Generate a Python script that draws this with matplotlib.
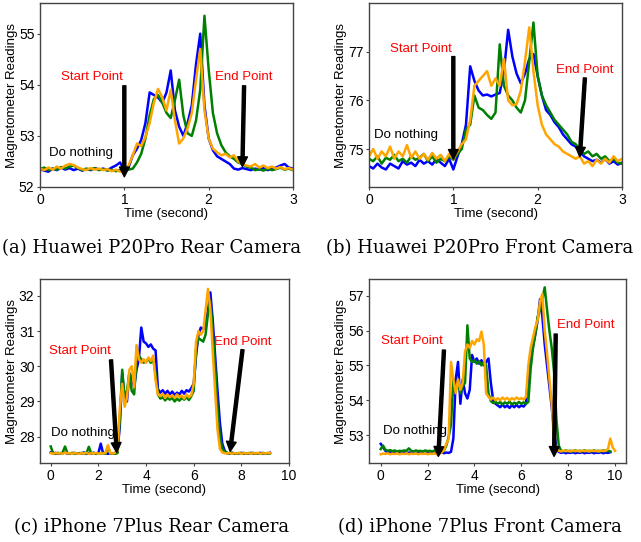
import matplotlib
matplotlib.use("Agg")
import matplotlib.pyplot as plt

plt.rcParams['font.family'] = ['Liberation Sans', 'DejaVu Sans']

# ---- (a) Huawei P20Pro rear camera, t step 0.05 s ----
t_a = [i * 0.05 for i in range(61)]
a_blue = [52.35, 52.32, 52.30, 52.36, 52.33, 52.38, 52.34, 52.37, 52.33, 52.36,
          52.32, 52.35, 52.33, 52.37, 52.34, 52.36, 52.33, 52.38, 52.42, 52.48,
          52.32, 52.38, 52.62, 52.75, 52.92, 53.25, 53.85, 53.80, 53.75, 53.65,
          53.85, 54.28, 53.50, 53.18, 53.00, 53.25, 53.60, 54.40, 55.00, 53.60,
          52.95, 52.72, 52.60, 52.55, 52.50, 52.45, 52.36, 52.34, 52.37, 52.35,
          52.33, 52.36, 52.34, 52.37, 52.33, 52.36, 52.38, 52.42, 52.45, 52.38, 52.36]
a_green = [52.35, 52.38, 52.33, 52.36, 52.34, 52.39, 52.36, 52.40, 52.42, 52.37,
           52.33, 52.36, 52.34, 52.37, 52.33, 52.35, 52.32, 52.34, 52.31, 52.33,
           52.30, 52.34, 52.36, 52.48, 52.65, 52.95, 53.40, 53.72, 53.80, 53.65,
           53.45, 53.35, 53.70, 54.10, 53.40, 53.05, 53.00, 53.30, 53.90, 55.35,
           54.30, 53.45, 53.05, 52.82, 52.68, 52.60, 52.55, 52.48, 52.45, 52.40,
           52.38, 52.33, 52.35, 52.32, 52.36, 52.33, 52.35, 52.38, 52.34, 52.36, 52.33]
a_orange = [52.36, 52.33, 52.38, 52.34, 52.40, 52.36, 52.42, 52.45, 52.43, 52.38,
            52.35, 52.33, 52.37, 52.34, 52.36, 52.33, 52.35, 52.31, 52.34, 52.30,
            52.32, 52.42, 52.62, 52.85, 52.80, 52.98, 53.25, 53.65, 53.92, 53.75,
            53.50, 53.90, 53.30, 52.85, 52.95, 53.15, 53.45, 54.10, 54.70, 53.50,
            52.95, 52.75, 52.68, 52.62, 52.65, 52.58, 52.62, 52.50, 52.45, 52.42,
            52.40, 52.45, 52.38, 52.42, 52.37, 52.40, 52.36, 52.39, 52.35, 52.37, 52.34]

# ---- (b) Huawei P20Pro front camera ----
t_b = [i * 0.05 for i in range(61)]
b_blue = [74.65, 74.60, 74.70, 74.62, 74.58, 74.70, 74.65, 74.60, 74.75, 74.68,
          74.72, 74.65, 74.78, 74.70, 74.75, 74.68, 74.80, 74.72, 74.65, 74.80,
          74.58, 74.85, 75.10, 75.50, 76.70, 76.40, 76.20, 76.10, 76.12, 76.08,
          76.12, 76.15, 76.60, 77.45, 76.90, 76.55, 76.35, 76.55, 76.85, 76.95,
          76.50, 76.10, 75.80, 75.70, 75.55, 75.45, 75.30, 75.20, 75.10, 75.05,
          74.95, 74.85, 74.80, 74.75, 74.78, 74.72, 74.80, 74.70, 74.75, 74.68, 74.72]
b_green = [74.80, 74.75, 74.85, 74.70, 74.82, 74.78, 74.88, 74.75, 74.80, 74.72,
           74.85, 74.78, 74.82, 74.90, 74.75, 74.85, 74.72, 74.80, 74.75, 74.85,
           74.78, 74.90, 75.00, 75.40, 75.50, 76.10, 75.85, 75.80, 75.70, 75.62,
           75.75, 77.15, 76.30, 76.10, 76.00, 75.85, 75.75, 76.00, 76.80, 77.60,
           76.50, 76.10, 75.90, 75.75, 75.60, 75.50, 75.40, 75.30, 75.15, 75.10,
           75.00, 74.90, 74.95, 74.85, 74.90, 74.80, 74.85, 74.75, 74.80, 74.72, 74.70]
b_orange = [74.85, 75.00, 74.80, 74.95, 74.85, 75.05, 74.80, 74.95, 74.85, 75.08,
            74.82, 74.95, 74.80, 74.90, 74.78, 74.92, 74.80, 74.88, 74.75, 74.90,
            74.80, 74.95, 75.10, 75.20, 75.60, 76.30, 76.40, 76.50, 76.60, 76.30,
            76.45, 76.30, 76.85, 76.00, 75.90, 75.92, 76.20, 76.80, 77.50, 76.60,
            75.90, 75.50, 75.30, 75.20, 75.10, 75.05, 74.95, 74.90, 74.85, 74.80,
            74.85, 74.70, 74.75, 74.65, 74.78, 74.70, 74.80, 74.72, 74.85, 74.75, 74.80]

# ---- (c) iPhone 7Plus rear camera, t step 0.1 s ----
t_c = [i * 0.1 for i in range(93)]
c_blue = [27.55, 27.52, 27.54, 27.51, 27.53, 27.52, 27.55, 27.51, 27.53, 27.52,
          27.54, 27.51, 27.53, 27.52, 27.55, 27.51, 27.53, 27.52, 27.54, 27.51,
          27.53, 27.80, 27.52, 27.54, 27.51, 27.53, 27.52, 27.54, 27.56, 28.30,
          29.80, 29.10, 29.00, 29.80, 29.70, 29.40, 29.90, 30.20, 31.10, 30.70,
          30.65, 30.55, 30.62, 30.50, 30.45, 29.35, 29.25, 29.32, 29.22, 29.30,
          29.20, 29.28, 29.18, 29.25, 29.20, 29.30, 29.22, 29.32, 29.28, 29.38,
          29.50, 30.30, 30.90, 31.10, 31.05, 31.20, 31.60, 32.10, 31.30, 30.30,
          29.30, 28.40, 27.80, 27.60, 27.53, 27.52, 27.54, 27.51, 27.53, 27.52,
          27.54, 27.51, 27.53, 27.52, 27.54, 27.51, 27.53, 27.52, 27.54, 27.51,
          27.53, 27.52, 27.54]
c_green = [27.72, 27.53, 27.51, 27.54, 27.52, 27.55, 27.72, 27.53, 27.51, 27.54,
           27.52, 27.53, 27.51, 27.54, 27.52, 27.53, 27.71, 27.52, 27.54, 27.51,
           27.53, 27.52, 27.54, 27.51, 27.72, 27.53, 27.52, 27.51, 27.53, 28.50,
           29.90, 29.10, 29.30, 29.80, 29.30, 29.20, 30.20, 30.30, 30.20, 30.10,
           30.15, 30.20, 30.10, 30.20, 29.80, 29.20, 29.08, 29.12, 29.03, 29.10,
           29.05, 29.10, 29.00, 29.08, 29.02, 29.10, 29.05, 29.12, 29.04, 29.15,
           29.30, 30.50, 30.80, 30.75, 30.70, 30.90, 31.50, 31.85, 31.00, 30.00,
           28.80, 28.00, 27.65, 27.58, 27.54, 27.52, 27.54, 27.53, 27.51, 27.53,
           27.52, 27.54, 27.51, 27.53, 27.52, 27.54, 27.51, 27.53, 27.52, 27.54,
           27.51, 27.53, 27.52]
c_orange = [27.53, 27.51, 27.54, 27.52, 27.53, 27.51, 27.55, 27.52, 27.53, 27.51,
            27.54, 27.52, 27.51, 27.53, 27.52, 27.54, 27.51, 27.53, 27.52, 27.54,
            27.51, 27.53, 27.52, 27.54, 27.76, 27.53, 27.52, 27.54, 27.60, 28.80,
            29.50, 28.85, 29.10, 29.90, 30.00, 29.40, 30.60, 30.20, 30.10, 30.20,
            30.10, 30.25, 30.15, 30.30, 29.60, 29.20, 29.15, 29.22, 29.10, 29.20,
            29.12, 29.18, 29.10, 29.20, 29.12, 29.17, 29.08, 29.20, 29.12, 29.18,
            29.50, 30.70, 31.00, 30.90, 31.00, 31.60, 32.20, 31.60, 30.40, 29.30,
            28.20, 27.65, 27.55, 27.53, 27.52, 27.54, 27.51, 27.53, 27.52, 27.54,
            27.51, 27.53, 27.52, 27.54, 27.51, 27.53, 27.52, 27.54, 27.51, 27.53,
            27.52, 27.54, 27.53]

# ---- (d) iPhone 7Plus front camera ----
t_d = [i * 0.1 for i in range(101)]
d_blue = [52.75, 52.65, 52.55, 52.50, 52.52, 52.49, 52.51, 52.48, 52.50, 52.49,
          52.51, 52.48, 52.50, 52.49, 52.51, 52.48, 52.50, 52.49, 52.51, 52.48,
          52.50, 52.49, 52.51, 52.48, 52.50, 52.49, 52.51, 52.48, 52.50, 52.49,
          52.52, 52.90, 54.60, 55.10, 53.90, 54.60, 54.20, 54.05, 54.30, 55.30,
          55.10, 55.20, 55.05, 55.15, 55.00, 55.10, 55.20, 54.50, 54.00, 53.90,
          53.85, 53.80, 53.88, 53.80, 53.85, 53.78, 53.86, 53.80, 53.87, 53.80,
          53.85, 53.82, 53.90, 54.70, 55.20, 55.55, 55.90, 56.30, 56.90, 56.40,
          55.60, 55.00, 54.40, 53.80, 53.10, 52.60, 52.52, 52.49, 52.51, 52.48,
          52.50, 52.49, 52.51, 52.48, 52.50, 52.49, 52.51, 52.48, 52.50, 52.49,
          52.51, 52.48, 52.50, 52.49, 52.51, 52.48, 52.50, 52.49, 52.51]
d_green = [52.60, 52.70, 52.58, 52.55, 52.57, 52.54, 52.56, 52.53, 52.55, 52.54,
           52.56, 52.55, 52.62, 52.55, 52.53, 52.56, 52.54, 52.55, 52.53, 52.56,
           52.54, 52.55, 52.53, 52.56, 52.54, 52.55, 52.53, 52.56, 52.70, 52.95,
           53.30, 54.60, 54.30, 54.50, 54.20, 54.40, 54.50, 56.15, 55.20, 55.10,
           55.15, 55.05, 55.12, 55.00, 55.10, 55.00, 54.20, 53.98, 53.92, 53.96,
           53.90, 53.95, 53.88, 53.94, 53.90, 53.96, 53.88, 53.93, 53.90, 53.95,
           53.90, 53.94, 53.90, 53.95, 54.90, 55.50, 55.90, 56.40, 56.60, 56.90,
           57.24, 56.60, 56.00, 55.50, 54.80, 53.45, 52.70, 52.55, 52.53, 52.56,
           52.54, 52.55, 52.53, 52.56, 52.54, 52.55, 52.53, 52.56, 52.54, 52.55,
           52.53, 52.56, 52.54, 52.55, 52.53, 52.56, 52.54, 52.55, 52.53]
d_orange = [52.45, 52.47, 52.46, 52.48, 52.45, 52.47, 52.46, 52.48, 52.45, 52.47,
            52.46, 52.48, 52.45, 52.47, 52.46, 52.48, 52.45, 52.47, 52.46, 52.48,
            52.45, 52.47, 52.46, 52.48, 52.45, 52.47, 52.50, 52.57, 52.75, 52.90,
            55.10, 54.60, 54.20, 54.60, 54.30, 54.50, 55.40, 55.60, 55.50, 55.70,
            55.60, 55.75, 55.70, 55.97, 55.60, 54.20, 54.10, 54.02, 54.08, 54.00,
            54.06, 54.00, 54.08, 54.02, 54.07, 54.00, 54.06, 54.02, 54.08, 54.03,
            54.06, 54.02, 54.10, 55.00, 55.50, 55.80, 56.10, 56.30, 56.83, 57.05,
            56.00, 55.35, 54.60, 53.90, 52.80, 52.60, 52.55, 52.53, 52.56, 52.54,
            52.55, 52.53, 52.56, 52.54, 52.55, 52.53, 52.56, 52.54, 52.55, 52.53,
            52.56, 52.54, 52.55, 52.53, 52.56, 52.54, 52.55, 52.60, 52.90, 52.65, 52.55]

captions = ["(a) Huawei P20Pro Rear Camera", "(b) Huawei P20Pro Front Camera",
            "(c) iPhone 7Plus Rear Camera", "(d) iPhone 7Plus Front Camera"]

W, H = 641, 542
fig = plt.figure(figsize=(W / 100, H / 100), dpi=100)


def px_axes(x0, y0, x1, y1):
    return fig.add_axes([x0 / W, 1 - y1 / H, (x1 - x0) / W, (y1 - y0) / H])


def draw(ax, t, blue, green, orange, xlim, ylim, xticks, yticks):
    ax.plot(t[:len(blue)], blue, color="#0000ff", lw=1.8)
    ax.plot(t[:len(green)], green, color="#008000", lw=1.8)
    ax.plot(t[:len(orange)], orange, color="#ffa500", lw=1.8)
    ax.set_xlim(*xlim); ax.set_ylim(*ylim)
    ax.set_xticks(xticks); ax.set_yticks(yticks)
    ax.tick_params(labelsize=10, length=2.5, pad=1.5, color="#444444")
    for s in ax.spines.values():
        s.set_color("#444444"); s.set_linewidth(1.0)
    ax.set_xlabel("Time (second)", fontsize=9.5, labelpad=1)
    ax.set_ylabel("Magnetometer Readings", fontsize=9.5, labelpad=0.5)


def notes(ax, start_txt, start_from, start_to, end_txt, end_from, end_to, idle):
    ap = dict(facecolor="black", edgecolor="black", width=2.2, headwidth=7, headlength=7, shrink=0)
    ax.annotate("", xy=start_to, xytext=start_from, arrowprops=ap)
    ax.annotate("", xy=end_to, xytext=end_from, arrowprops=ap)
    ax.text(*start_txt, "Start Point", color="red", fontsize=9.5, ha="center", va="center")
    ax.text(*end_txt, "End Point", color="red", fontsize=9.5, ha="center", va="center")
    ax.text(*idle, "Do nothing", color="black", fontsize=9.5, ha="center", va="center")


ax = px_axes(40, 3, 293, 187)
draw(ax, t_a, a_blue, a_green, a_orange, (0, 3), (52, 55.6), [0, 1, 2, 3], [52, 53, 54, 55])
notes(ax, (0.62, 54.15), (1.0, 53.98), (1.0, 52.2), (2.42, 54.15), (2.42, 53.98), (2.40, 52.4), (0.49, 52.66))

ax = px_axes(369, 3, 622, 187)
draw(ax, t_b, b_blue, b_green, b_orange, (0, 3), (74.22, 78.0), [0, 1, 2, 3], [75, 76, 77])
notes(ax, (0.62, 77.06), (1.0, 76.9), (1.0, 74.79), (2.56, 76.63), (2.56, 76.46), (2.5, 74.84), (0.44, 75.29))

ax = px_axes(40, 279, 289, 463)
draw(ax, t_c, c_blue, c_green, c_orange, (-0.45, 10), (27.25, 32.48), [0, 2, 4, 6, 8, 10], [28, 29, 30, 31, 32])
notes(ax, (1.23, 30.42), (2.53, 30.18), (2.77, 27.55), (8.05, 30.7), (8.05, 30.47), (7.53, 27.58), (1.37, 28.1))

ax = px_axes(369, 279, 626, 463)
draw(ax, t_d, d_blue, d_green, d_orange, (-0.5, 10.47), (52.2, 57.48), [0, 2, 4, 6, 8, 10], [53, 54, 55, 56, 57])
notes(ax, (1.35, 55.7), (2.70, 55.44), (2.46, 52.39), (8.75, 56.16), (7.47, 55.9), (7.4, 52.39), (1.46, 53.11))

for (cx, cy), cap in zip([(152, 248), (480, 248), (152, 527), (480, 527)], captions):
    fig.text(cx / W, 1 - cy / H, cap, fontsize=13, family="DejaVu Serif", ha="center", va="center")

fig.savefig("out.png", dpi=100)
